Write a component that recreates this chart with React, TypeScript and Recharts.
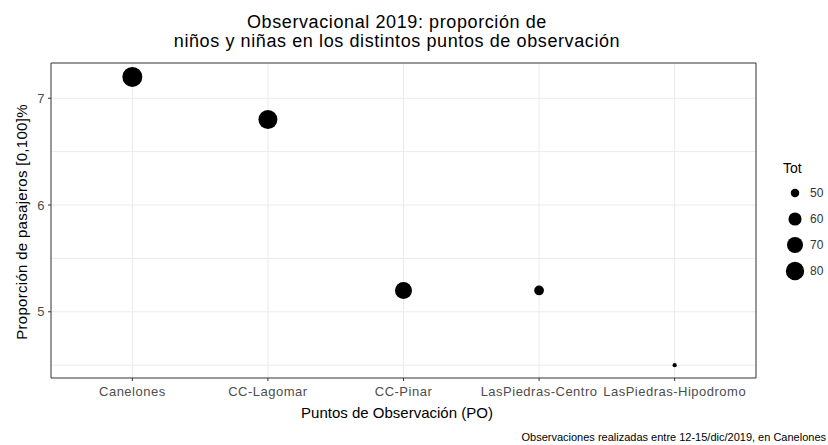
import React from "react";
import {
  ScatterChart,
  Scatter,
  XAxis,
  YAxis,
  CartesianGrid,
  ReferenceArea,
} from "recharts";

const puntos = [
  "Canelones",
  "CC-Lagomar",
  "CC-Pinar",
  "LasPiedras-Centro",
  "LasPiedras-Hipodromo",
];
const proporcion = [7.2, 6.8, 5.2, 5.2, 4.5];
const totales = [88, 83, 74, 52, 47];
const yTicks = [5, 6, 7];
const yGrid = [4.5, 5, 5.5, 6, 6.5, 7];
const legendBreaks = [50, 60, 70, 80];

const data = puntos.map((p, i) => ({
  x: i + 1,
  po: p,
  prop: proporcion[i],
  tot: totales[i],
}));

const TOT_MIN = 47;
const TOT_MAX = 88;
const radius = (v: number) => {
  const t = Math.max(0, (v - TOT_MIN) / (TOT_MAX - TOT_MIN));
  return (4.2 + 15.8 * Math.sqrt(t)) / 2;
};

const FONT = "'Liberation Sans', Arial, Helvetica, sans-serif";

const Dot = (props: any) => {
  const { cx, cy, payload } = props;
  if (cx == null || cy == null) return null;
  return <circle cx={cx} cy={cy} r={radius(payload.tot)} fill="#000" />;
};

const tickStyle = {
  fontSize: 13,
  fill: "#4d4d4d",
  fontFamily: FONT,
  letterSpacing: 0.5,
};

export default function App() {
  return (
    <div
      style={{
        position: "absolute",
        left: 0,
        top: 0,
        width: 828,
        height: 445,
        background: "#fff",
        fontFamily: FONT,
      }}
    >
      <ScatterChart
        width={828}
        height={445}
        margin={{ top: 63, right: 72, bottom: 0, left: 0 }}
      >
        <CartesianGrid
          stroke="#ebebeb"
          horizontalValues={yGrid}
          verticalValues={[1, 2, 3, 4, 5]}
        />
        <XAxis
          type="number"
          dataKey="x"
          domain={[0.4, 5.6]}
          ticks={[1, 2, 3, 4, 5]}
          interval={0}
          allowDataOverflow
          tickFormatter={(v: number) => puntos[v - 1] ?? ""}
          axisLine={false}
          tickLine={{ stroke: "#333" }}
          tickSize={3}
          tickMargin={6}
          height={67}
          tick={tickStyle}
        />
        <YAxis
          type="number"
          dataKey="prop"
          domain={[4.38, 7.33]}
          ticks={yTicks}
          allowDataOverflow
          axisLine={false}
          tickLine={{ stroke: "#333" }}
          tickSize={3}
          tickMargin={3}
          width={51}
          tick={tickStyle}
        />
        <ReferenceArea
          x1={0.4}
          x2={5.6}
          y1={4.38}
          y2={7.33}
          fill="none"
          stroke="#333"
          strokeWidth={1}
          ifOverflow="visible"
        />
        <Scatter data={data} shape={<Dot />} isAnimationActive={false} />
      </ScatterChart>

      <div
        style={{
          position: "absolute",
          left: 397,
          top: 13,
          transform: "translateX(-50%)",
          whiteSpace: "nowrap",
          textAlign: "center",
          fontSize: 18,
          letterSpacing: 0.6,
          lineHeight: "19px",
          color: "#000",
        }}
      >
        Observacional 2019: proporción de
        <br />
        niños y niñas en los distintos puntos de observación
      </div>

      <div
        style={{
          position: "absolute",
          left: 21,
          top: 222,
          transform: "translate(-50%, -50%) rotate(-90deg)",
          whiteSpace: "nowrap",
          fontSize: 15,
          letterSpacing: 0.3,
          color: "#000",
        }}
      >
        Proporción de pasajeros [0,100]%
      </div>

      <div
        style={{
          position: "absolute",
          left: 397,
          top: 412,
          transform: "translate(-50%, -50%)",
          whiteSpace: "nowrap",
          fontSize: 15,
          color: "#000",
        }}
      >
        Puntos de Observación (PO)
      </div>

      <div
        style={{
          position: "absolute",
          right: 2,
          top: 437,
          transform: "translateY(-50%)",
          whiteSpace: "nowrap",
          fontSize: 11,
          color: "#000",
        }}
      >
        Observaciones realizadas entre 12-15/dic/2019, en Canelones
      </div>

      <div
        style={{
          position: "absolute",
          left: 783,
          top: 160,
          fontSize: 14,
          color: "#000",
        }}
      >
        Tot
      </div>
      {legendBreaks.map((b, i) => (
        <div
          key={b}
          style={{
            position: "absolute",
            left: 780,
            top: 193 + i * 26 - 13,
            height: 26,
            display: "flex",
            alignItems: "center",
          }}
        >
          <svg width={30} height={26}>
            <circle cx={15} cy={13} r={radius(b)} fill="#000" />
          </svg>
          <span style={{ fontSize: 12, color: "#333" }}>{b}</span>
        </div>
      ))}
    </div>
  );
}
